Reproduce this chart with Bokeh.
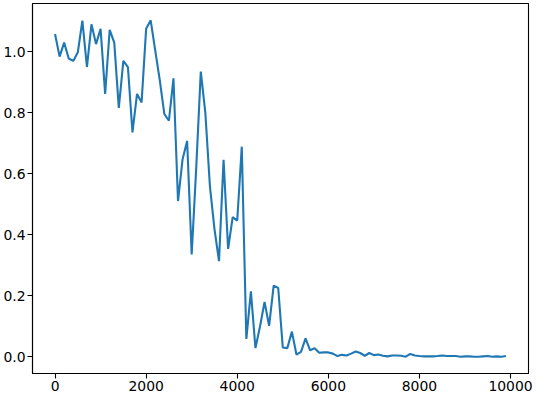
from bokeh.plotting import figure
from bokeh.models import Range1d, FixedTicker, PrintfTickFormatter
from bokeh.embed import file_html
from bokeh.resources import INLINE

steps = list(range(0, 10000, 100))
values = [
    1.058, 0.984, 1.030, 0.978, 0.970, 0.998, 1.102, 0.950, 1.090, 1.025,
    1.075, 0.862, 1.072, 1.030, 0.816, 0.970, 0.950, 0.736, 0.862, 0.834,
    1.075, 1.103, 1.004, 0.906, 0.796, 0.774, 0.913, 0.511, 0.648, 0.708,
    0.336, 0.620, 0.935, 0.800, 0.560, 0.420, 0.314, 0.646, 0.354, 0.458,
    0.447, 0.689, 0.059, 0.215, 0.029, 0.100, 0.180, 0.102, 0.234, 0.226,
    0.031, 0.029, 0.083, 0.008, 0.017, 0.061, 0.022, 0.029, 0.014, 0.015,
    0.015, 0.011, 0.003, 0.007, 0.005, 0.011, 0.018, 0.013, 0.004, 0.013,
    0.006, 0.008, 0.004, 0.002, 0.005, 0.005, 0.004, 0.001, 0.010, 0.005,
    0.003, 0.002, 0.002, 0.002, 0.003, 0.005, 0.003, 0.003, 0.003, 0.001,
    0.002, 0.002, 0.001, 0.001, 0.002, 0.003, 0.001, 0.002, 0.001, 0.003,
]
x_ticks = [0, 2000, 4000, 6000, 8000, 10000]
y_ticks = [0.0, 0.2, 0.4, 0.6, 0.8, 1.0]

xmin, xmax = min(steps), max(steps)
ymin, ymax = min(values), max(values)
xpad = 0.05 * (xmax - xmin)
ypad = 0.05 * (ymax - ymin)

p = figure(width=535, height=397, output_backend="svg", toolbar_location=None,
           x_range=Range1d(xmin - xpad, xmax + xpad),
           y_range=Range1d(ymin - ypad, ymax + ypad),
           min_border_left=32, min_border_right=7, min_border_top=3, min_border_bottom=24)

p.line(steps, values, line_color="#1f77b4", line_width=2.1)

p.xgrid.visible = False
p.ygrid.visible = False
p.outline_line_color = "black"
p.outline_line_width = 1.1
p.background_fill_color = "white"
p.border_fill_color = "white"

p.xaxis.ticker = FixedTicker(ticks=x_ticks)
p.yaxis.ticker = FixedTicker(ticks=y_ticks)
p.xaxis.formatter = PrintfTickFormatter(format="%d")
p.yaxis.formatter = PrintfTickFormatter(format="%.1f")
for ax in (p.xaxis[0], p.yaxis[0]):
    ax.axis_line_color = "black"
    ax.axis_line_width = 1.1
    ax.major_tick_line_color = "black"
    ax.major_tick_line_width = 1.1
    ax.major_tick_out = 5
    ax.major_tick_in = 0
    ax.minor_tick_line_color = None
    ax.major_label_text_font = "DejaVu Sans"
    ax.major_label_text_font_size = "13.9px"
    ax.major_label_text_color = "black"
    ax.major_label_standoff = 2

open("out.html", "w").write(file_html(p, INLINE))
